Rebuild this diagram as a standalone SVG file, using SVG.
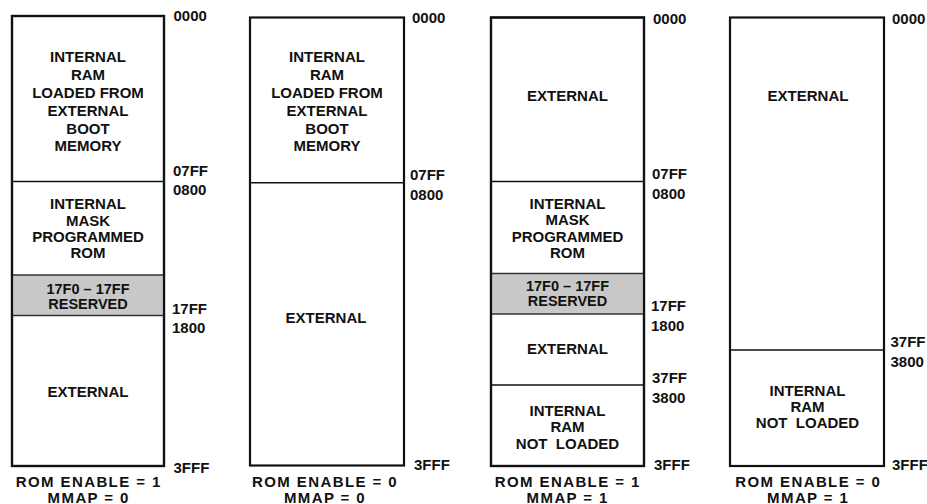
<svg xmlns="http://www.w3.org/2000/svg" width="927" height="504" viewBox="0 0 927 504">
<style>
text{font-family:"Liberation Sans",Arial,Helvetica,sans-serif;font-weight:bold;fill:#111;}
.in{font-size:15px;text-anchor:middle;}
.sm{font-size:14.5px;text-anchor:middle;}
.ad{font-size:15px;}
.cap{font-size:15px;text-anchor:middle;letter-spacing:1.4px;}
.box{fill:#fff;stroke:#111;stroke-width:2.2;}
.div{stroke:#111;stroke-width:1.5;fill:none;}
.res{fill:#c8c8c8;stroke:#333;stroke-width:1.5;}
</style>
<rect width="927" height="504" fill="#fff"/>

<!-- Map 1: ROM ENABLE = 1, MMAP = 0 -->
<g id="map1">
  <rect class="box" x="12" y="16" width="152" height="450"/>
  <g id="map1-ram">
    <text class="in" x="88" y="62">INTERNAL</text>
    <text class="in" x="88" y="80">RAM</text>
    <text class="in" x="88" y="98">LOADED FROM</text>
    <text class="in" x="88" y="116">EXTERNAL</text>
    <text class="in" x="88" y="133.5">BOOT</text>
    <text class="in" x="88" y="151">MEMORY</text>
  </g>
  <line class="div" x1="12" y1="181.5" x2="164" y2="181.5"/>
  <g id="map1-rom">
    <text class="in" x="88" y="209">INTERNAL</text>
    <text class="in" x="88" y="225.5">MASK</text>
    <text class="in" x="88" y="242">PROGRAMMED</text>
    <text class="in" x="88" y="258.3">ROM</text>
  </g>
  <g id="map1-reserved">
    <rect class="res" x="12" y="275" width="152" height="40.5"/>
    <text class="sm" x="88" y="293.5">17F0 – 17FF</text>
    <text class="sm" x="88" y="309">RESERVED</text>
  </g>
  <g id="map1-ext">
    <text class="in" x="88" y="396.5">EXTERNAL</text>
  </g>
  <rect x="12" y="16" width="152" height="450" fill="none" stroke="#111" stroke-width="2.2"/>
  <text class="ad" x="173.5" y="21">0000</text>
  <text class="ad" x="173" y="176">07FF</text>
  <text class="ad" x="173" y="195">0800</text>
  <text class="ad" x="172" y="314">17FF</text>
  <text class="ad" x="172" y="333">1800</text>
  <text class="ad" x="173.5" y="473">3FFF</text>
  <text class="cap" x="88.7" y="487">ROM ENABLE = 1</text>
  <text class="cap" x="88.7" y="503">MMAP = 0</text>
</g>

<!-- Map 2: ROM ENABLE = 0, MMAP = 0 -->
<g id="map2">
  <rect class="box" x="250" y="17.5" width="154" height="448"/>
  <g id="map2-ram">
    <text class="in" x="327" y="62.3">INTERNAL</text>
    <text class="in" x="327" y="80.2">RAM</text>
    <text class="in" x="327" y="98">LOADED FROM</text>
    <text class="in" x="327" y="115.8">EXTERNAL</text>
    <text class="in" x="327" y="133.5">BOOT</text>
    <text class="in" x="327" y="151">MEMORY</text>
  </g>
  <line class="div" x1="250" y1="182.7" x2="404" y2="182.7"/>
  <g id="map2-ext">
    <text class="in" x="326" y="322.5">EXTERNAL</text>
  </g>
  <text class="ad" x="412" y="23">0000</text>
  <text class="ad" x="410" y="180">07FF</text>
  <text class="ad" x="410" y="199.5">0800</text>
  <text class="ad" x="414" y="470">3FFF</text>
  <text class="cap" x="325" y="487">ROM ENABLE = 0</text>
  <text class="cap" x="325" y="503">MMAP = 0</text>
</g>

<!-- Map 3: ROM ENABLE = 1, MMAP = 1 -->
<g id="map3">
  <rect class="box" x="491" y="17.5" width="153" height="448.5"/>
  <g id="map3-ext-low">
    <text class="in" x="567.5" y="100.5">EXTERNAL</text>
  </g>
  <line class="div" x1="491" y1="181.5" x2="644" y2="181.5"/>
  <g id="map3-rom">
    <text class="in" x="567.5" y="208.5">INTERNAL</text>
    <text class="in" x="567.5" y="225">MASK</text>
    <text class="in" x="567.5" y="241.5">PROGRAMMED</text>
    <text class="in" x="567.5" y="258">ROM</text>
  </g>
  <g id="map3-reserved">
    <rect class="res" x="491" y="273.5" width="153" height="40.5"/>
    <text class="sm" x="567.5" y="291">17F0 – 17FF</text>
    <text class="sm" x="567.5" y="306.3">RESERVED</text>
  </g>
  <g id="map3-ext-high">
    <text class="in" x="567.5" y="354">EXTERNAL</text>
  </g>
  <line class="div" x1="491" y1="385" x2="644" y2="385"/>
  <g id="map3-ram">
    <text class="in" x="567.5" y="415.5">INTERNAL</text>
    <text class="in" x="567.5" y="432">RAM</text>
    <text class="in" x="567.5" y="448.5" xml:space="preserve">NOT  LOADED</text>
  </g>
  <rect x="491" y="17.5" width="153" height="448.5" fill="none" stroke="#111" stroke-width="2.2"/>
  <text class="ad" x="653" y="24">0000</text>
  <text class="ad" x="652" y="179">07FF</text>
  <text class="ad" x="652" y="199">0800</text>
  <text class="ad" x="651" y="311">17FF</text>
  <text class="ad" x="651" y="330.5">1800</text>
  <text class="ad" x="652" y="383">37FF</text>
  <text class="ad" x="652" y="403">3800</text>
  <text class="ad" x="654" y="470">3FFF</text>
  <text class="cap" x="567.7" y="487">ROM ENABLE = 1</text>
  <text class="cap" x="567.7" y="503">MMAP = 1</text>
</g>

<!-- Map 4: ROM ENABLE = 0, MMAP = 1 -->
<g id="map4">
  <rect class="box" x="730" y="17.5" width="154" height="448.5"/>
  <g id="map4-ext">
    <text class="in" x="808" y="100.5">EXTERNAL</text>
  </g>
  <line class="div" x1="730" y1="350" x2="884" y2="350"/>
  <g id="map4-ram">
    <text class="in" x="807.5" y="395.5">INTERNAL</text>
    <text class="in" x="807.5" y="412">RAM</text>
    <text class="in" x="807.5" y="428.3" xml:space="preserve">NOT  LOADED</text>
  </g>
  <text class="ad" x="892" y="24">0000</text>
  <text class="ad" x="890.5" y="346.5">37FF</text>
  <text class="ad" x="890.5" y="366.5">3800</text>
  <text class="ad" x="892" y="470">3FFF</text>
  <text class="cap" x="808.2" y="487">ROM ENABLE = 0</text>
  <text class="cap" x="808.2" y="503">MMAP = 1</text>
</g>
</svg>
